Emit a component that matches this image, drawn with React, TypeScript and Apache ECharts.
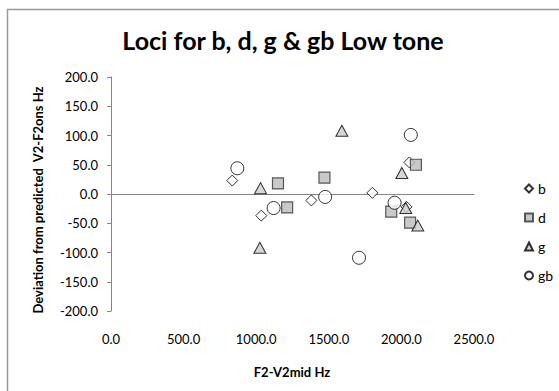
import React, { useEffect, useRef } from "react";
import * as echarts from "echarts";

const titleText = "Loci for b, d, g & gb Low tone";
const xTitle = "F2-V2mid Hz";
const yTitle = "Deviation from predicted  V2-F2ons Hz";
const seriesNames = ["b", "d", "g", "gb"];

const bData: [number, number][] = [
  [835, 23], [1035, -37], [1380, -11], [1800, 2], [2055, 54], [2035, -22],
];
const dData: [number, number][] = [
  [1150, 18], [1213, -23], [1470, 28], [1930, -30], [2060, -49], [2100, 50],
];
const gData: [number, number][] = [
  [1030, 10], [1025, -92], [1590, 108], [2003, 36], [2030, -24], [2113, -54],
];
const gbData: [number, number][] = [
  [870, 44], [1120, -24], [1475, -5], [1708, -109], [1953, -15], [2065, 101],
];

const xMin = 0, xMax = 2500, xStep = 500;
const yMin = -200, yMax = 200, yStep = 50;

const FONT = "Lato, 'Liberation Sans', sans-serif";

export default function App() {
  const ref = useRef<HTMLDivElement>(null);
  useEffect(() => {
    if (!ref.current) return;
    const chart = echarts.init(ref.current, undefined, { renderer: "svg" });
    const fmt = (v: number) => v.toFixed(1);
    chart.setOption({
      animation: false,
      backgroundColor: "#ffffff",
      textStyle: { fontFamily: FONT },
      grid: { left: 111, right: 85, top: 77, bottom: 80, containLabel: false },
      xAxis: [
        {
          type: "value",
          min: xMin, max: xMax, interval: xStep,
          axisLine: { show: false, onZero: false },
          axisTick: { show: false },
          splitLine: { show: false },
          axisLabel: { formatter: fmt, margin: 21, fontSize: 13, color: "#000", fontFamily: FONT },
        },
        {
          type: "value",
          position: "bottom",
          min: xMin, max: xMax, interval: xStep,
          axisLine: { show: true, onZero: true, lineStyle: { color: "#868686", width: 1 } },
          axisTick: { show: false },
          splitLine: { show: false },
          axisLabel: { show: false },
        },
      ],
      yAxis: {
        type: "value",
        min: yMin, max: yMax, interval: yStep,
        axisLine: { show: true, onZero: false, lineStyle: { color: "#868686", width: 1 } },
        axisTick: { show: true, length: 4, lineStyle: { color: "#868686" } },
        splitLine: { show: false },
        axisLabel: { formatter: fmt, margin: 13, fontSize: 13, color: "#000", fontFamily: FONT },
      },
      legend: {
        orient: "vertical",
        left: 519,
        top: 176,
        itemWidth: 8,
        itemHeight: 8,
        itemGap: 14,
        textStyle: { fontSize: 14, color: "#000", lineHeight: 15, fontFamily: FONT },
        data: seriesNames,
      },
      series: [
        {
          name: seriesNames[0], type: "scatter", data: bData,
          symbol: "diamond", symbolSize: [11, 11],
          itemStyle: { color: "#ffffff", borderColor: "#000", borderWidth: 1 },
        },
        {
          name: seriesNames[1], type: "scatter", data: dData,
          symbol: "rect", symbolSize: 11,
          itemStyle: { color: "#bcbcbc", borderColor: "#333", borderWidth: 1.2 },
        },
        {
          name: seriesNames[2], type: "scatter", data: gData,
          symbol: "triangle", symbolSize: [12, 11],
          itemStyle: { color: "#cccccc", borderColor: "#000", borderWidth: 1 },
        },
        {
          name: seriesNames[3], type: "scatter", data: gbData,
          symbol: "circle", symbolSize: 13,
          itemStyle: { color: "#ffffff", borderColor: "#000", borderWidth: 1 },
        },
      ],
      graphic: [
        {
          type: "rect", z: -1, silent: true,
          shape: { x: 7.5, y: 9.5, width: 600, height: 400 },
          style: { fill: "none", stroke: "#999999", lineWidth: 1.5 },
        },
        {
          type: "text", x: 283, y: 40,
          style: {
            text: titleText, fontSize: 25, fontWeight: "bold", fontFamily: FONT,
            fill: "#000", textAlign: "center", textVerticalAlign: "middle",
          },
        },
        {
          type: "text", x: 292, y: 372,
          style: {
            text: xTitle, fontSize: 13, fontWeight: "bold", fontFamily: FONT,
            fill: "#000", textAlign: "center", textVerticalAlign: "middle",
          },
        },
        {
          type: "text", x: 38, y: 200, rotation: Math.PI / 2,
          style: {
            text: yTitle, fontSize: 13, fontWeight: "bold", fontFamily: FONT,
            fill: "#000", textAlign: "center", textVerticalAlign: "middle",
          },
        },
      ],
    });
    return () => chart.dispose();
  }, []);
  return (
    <div
      ref={ref}
      style={{ position: "fixed", left: 0, top: 0, width: 559, height: 391 }}
    />
  );
}
